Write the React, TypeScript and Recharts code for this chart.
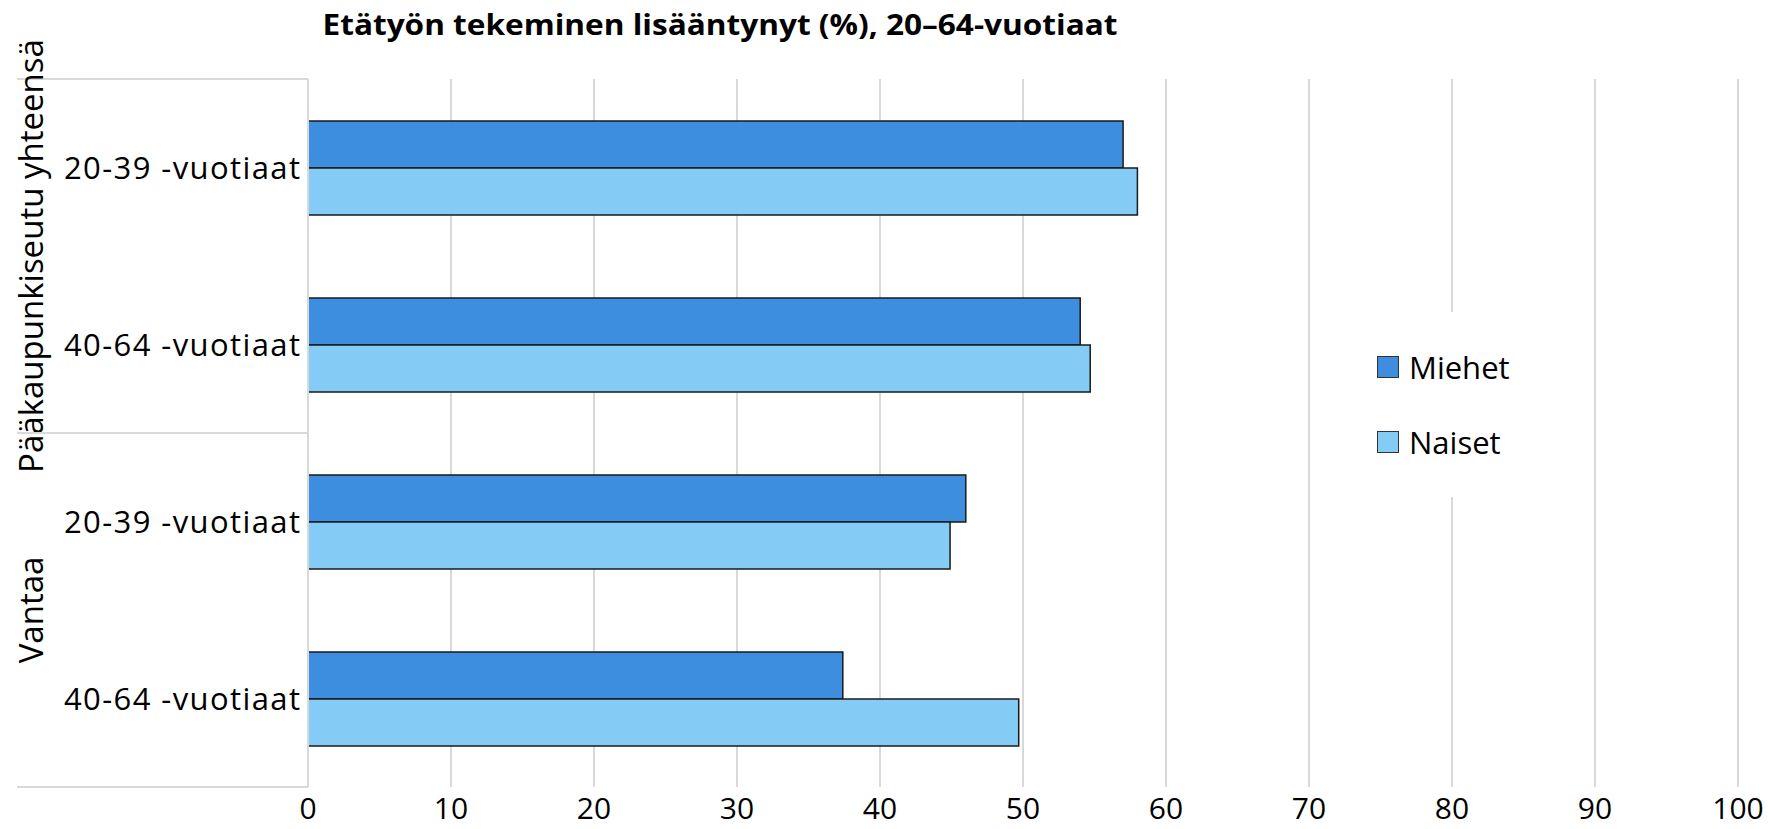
import React from 'react';
import { BarChart, Bar, XAxis, YAxis, CartesianGrid } from 'recharts';

const TITLE = 'Etätyön tekeminen lisääntynyt (%), 20–64-vuotiaat';
const groupNames = ['Pääkaupunkiseutu yhteensä', 'Vantaa'];
const rowKeys = ['pk-20-39', 'pk-40-64', 'va-20-39', 'va-40-64'];
const ageLabels = ['20-39 -vuotiaat', '40-64 -vuotiaat', '20-39 -vuotiaat', '40-64 -vuotiaat'];
const rowGroup = [0, 0, 1, 1];
const miehet = [57.0, 54.0, 46.0, 37.4];
const naiset = [58.0, 54.7, 44.9, 49.7];
const xTicks = [0, 10, 20, 30, 40, 50, 60, 70, 80, 90, 100];
const seriesNames = ['Miehet', 'Naiset'];
const seriesColors = ['#3D8EDE', '#84CCF6'];

const data = rowKeys.map((k, i) => ({ key: k, label: ageLabels[i], Miehet: miehet[i], Naiset: naiset[i] }));

const W = 1773;
const H = 829;
const MARGIN = { top: 79, right: 35, bottom: 0, left: 8 };
const Y_AXIS_W = 300;
const X_AXIS_H = 42;
const PLOT_LEFT = MARGIN.left + Y_AXIS_W;
const PLOT_H = H - MARGIN.top - MARGIN.bottom - X_AXIS_H;
const FONT = "'Open Sans', 'DejaVu Sans', sans-serif";
const GRID = '#d9d9d9';

const YTick = (props: any) => {
  const { x, y, payload } = props;
  const i = payload.index;
  const band = PLOT_H / rowKeys.length;
  const g = rowGroup[i];
  const isGroupStart = i === 0 || rowGroup[i - 1] !== g;
  const isLast = i === rowKeys.length - 1;
  const count = rowGroup.filter((v) => v === g).length;
  const groupCenter = y - band / 2 + (count * band) / 2;
  return (
    <g>
      <text
        x={x}
        y={y}
        dy="0.36em"
        textAnchor="end"
        fontSize={31}
        fontFamily={FONT}
        fill="#000"
        textLength={236}
        lengthAdjust="spacing"
      >
        {ageLabels[i]}
      </text>
      {isGroupStart && (
        <line x1={17} x2={PLOT_LEFT} y1={y - band / 2} y2={y - band / 2} stroke={GRID} strokeWidth={2} />
      )}
      {isLast && (
        <line x1={17} x2={PLOT_LEFT} y1={y + band / 2} y2={y + band / 2} stroke={GRID} strokeWidth={2} />
      )}
      {isGroupStart && (
        <text
          x={31}
          y={groupCenter}
          transform={`rotate(-90, 31, ${groupCenter})`}
          textAnchor="middle"
          dy="0.36em"
          fontSize={33}
          fontFamily={FONT}
          fill="#000"
        >
          {groupNames[g]}
        </text>
      )}
    </g>
  );
};

export default function App() {
  return (
    <div style={{ position: 'absolute', left: 0, top: 0, width: W, height: H, background: '#fff' }}>
      <BarChart
        width={W}
        height={H}
        data={data}
        layout="vertical"
        margin={MARGIN}
        barCategoryGap="23.7%"
        barGap={0}
      >
        <CartesianGrid horizontal={false} vertical={true} stroke={GRID} strokeWidth={2} />
        <XAxis
          type="number"
          domain={[0, 100]}
          ticks={xTicks}
          axisLine={false}
          tickLine={false}
          tickMargin={5}
          height={X_AXIS_H}
          interval={0}
          tick={{ fontSize: 30, fontFamily: FONT, fill: '#000' }}
        />
        <YAxis
          type="category"
          dataKey="key"
          width={Y_AXIS_W}
          axisLine={{ stroke: GRID, strokeWidth: 2 }}
          tickLine={false}
          interval={0}
          tick={<YTick />}
        />
        {seriesNames.map((s, i) => (
          <Bar
            key={s}
            dataKey={s}
            fill={seriesColors[i]}
            stroke="#1a1a1a"
            strokeWidth={1.5}
            isAnimationActive={false}
          />
        ))}
      </BarChart>
      <svg width={W} height={H} style={{ position: 'absolute', left: 0, top: 0, pointerEvents: 'none' }}>
        <text
          x={720}
          y={35}
          textAnchor="middle"
          fontSize={29}
          fontWeight="bold"
          fontFamily={FONT}
          fill="#000"
          textLength={795}
          lengthAdjust="spacingAndGlyphs"
        >
          {TITLE}
        </text>
      </svg>
      <div
        style={{
          position: 'absolute',
          left: 1362,
          top: 312,
          width: 168,
          height: 185,
          background: '#fff',
          fontFamily: FONT,
          fontSize: 31,
          color: '#000',
        }}
      >
        {seriesNames.map((s, i) => (
          <div
            key={s}
            style={{
              position: 'absolute',
              left: 15,
              top: 55 + i * 75 - 20,
              height: 40,
              display: 'flex',
              alignItems: 'center',
              whiteSpace: 'nowrap',
            }}
          >
            <span
              style={{
                display: 'inline-block',
                width: 20,
                height: 20,
                background: seriesColors[i],
                border: '1.5px solid #333',
                marginRight: 10,
              }}
            />
            <span style={{ lineHeight: '40px' }}>{s}</span>
          </div>
        ))}
      </div>
    </div>
  );
}
